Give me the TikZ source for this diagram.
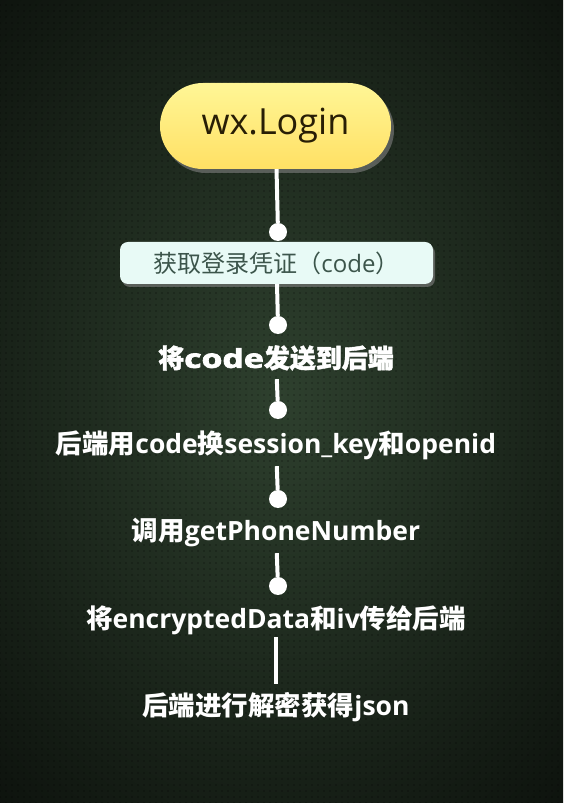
\documentclass[tikz,border=0pt]{standalone}
\usepackage{fontspec}
\setmainfont{Open Sans}
\newfontfamily\cjk{Noto Sans CJK SC}
\newfontfamily\heavy[FakeBold=2.5]{Open Sans}
\newfontfamily\cjkheavy[FakeBold=1.5]{Noto Sans CJK SC}
\usetikzlibrary{shadows,patterns.meta}
\newcommand\zh[1]{{\cjk #1}}
\newcommand\zhh[1]{{\cjkheavy\bfseries #1}}
\definecolor{glow}{RGB}{46,64,46}
\definecolor{pilltop}{RGB}{255,246,150}
\definecolor{pillbot}{RGB}{255,224,100}
\definecolor{pilltext}{RGB}{40,30,5}
\definecolor{boxfill}{RGB}{232,250,246}
\definecolor{boxtext}{RGB}{60,85,75}
\tikzdeclarepattern{
  name=gdots,
  type=uncolored,
  bounding box={(-3pt,-3pt) and (3pt,3pt)},
  tile size={(6pt,6pt)},
  code={\fill (0pt,0pt) circle (0.9pt);}
}
\begin{document}
\begin{tikzpicture}[x=1pt,y=1pt,
  lbl/.style={text=white, inner sep=0pt, font=\fontsize{26.5}{30}\selectfont\bfseries},
  dotnode/.style={circle, fill=white, inner sep=0pt, minimum size=18pt},
  conn/.style={draw=white, line width=4pt}]
\useasboundingbox (0,0) rectangle (563,803);
\fill[black] (0,0) rectangle (563,803);
\begin{scope}
\clip (0,0) rectangle (563,803);
\shade[inner color=glow, outer color=black] (280,410) ellipse (600 and 780);
\fill[pattern=gdots, pattern color=black, opacity=0.35] (0,0) rectangle (563,803);
\end{scope}

\node[rounded corners=43pt, minimum width=231pt, minimum height=86pt,
  top color=pilltop, bottom color=pillbot, text=pilltext,
  font=\fontsize{36}{40}\selectfont,
  drop shadow={shadow xshift=3pt, shadow yshift=-4pt, opacity=0.6}] (pill) at (275.5,677) {wx.Login};
\node[dotnode] (d1) at (278,571) {};
\node[rounded corners=8pt, minimum width=313pt, minimum height=42pt, inner sep=0pt,
  fill=boxfill, text=boxtext, font=\fontsize{24}{28}\selectfont,
  drop shadow={shadow xshift=2pt, shadow yshift=-3pt, opacity=0.6}] (box) at (276.5,540) {\zh{获取登录凭证（}code\zh{）}};
\node[dotnode] (d2) at (278,478) {};
\node[lbl, minimum height=42pt, font=\fontsize{26}{30}\selectfont] (t1) at (276,445) {\zhh{将}\scalebox{1.3}[1]{\heavy\bfseries code}\zhh{发送到后端}};
\node[dotnode] (d3) at (278,393) {};
\node[lbl, minimum height=42pt] (t2) at (276,358) {\zh{后端用}code\zh{换}session\_key\zh{和}openid};
\node[dotnode] (d4) at (278,304) {};
\node[lbl, minimum height=42pt] (t3) at (276,271) {\zh{调用}getPhoneNumber};
\node[dotnode] (d5) at (278,217) {};
\node[lbl, minimum height=34pt] (t4) at (276,183) {\zh{将}encryptedData\zh{和}iv\zh{传给后端}};
\node[lbl, minimum height=46pt] (t6) at (276,96) {\zh{后端进行解密获得}json};

\draw[conn] (pill) -- (d1);
\draw[conn] (box) -- (d2);
\draw[conn] (t1) -- (d3);
\draw[conn] (t2) -- (d4);
\draw[conn] (t3) -- (d5);
\draw[conn] (t4) -- (t6);
\end{tikzpicture}
\end{document}
